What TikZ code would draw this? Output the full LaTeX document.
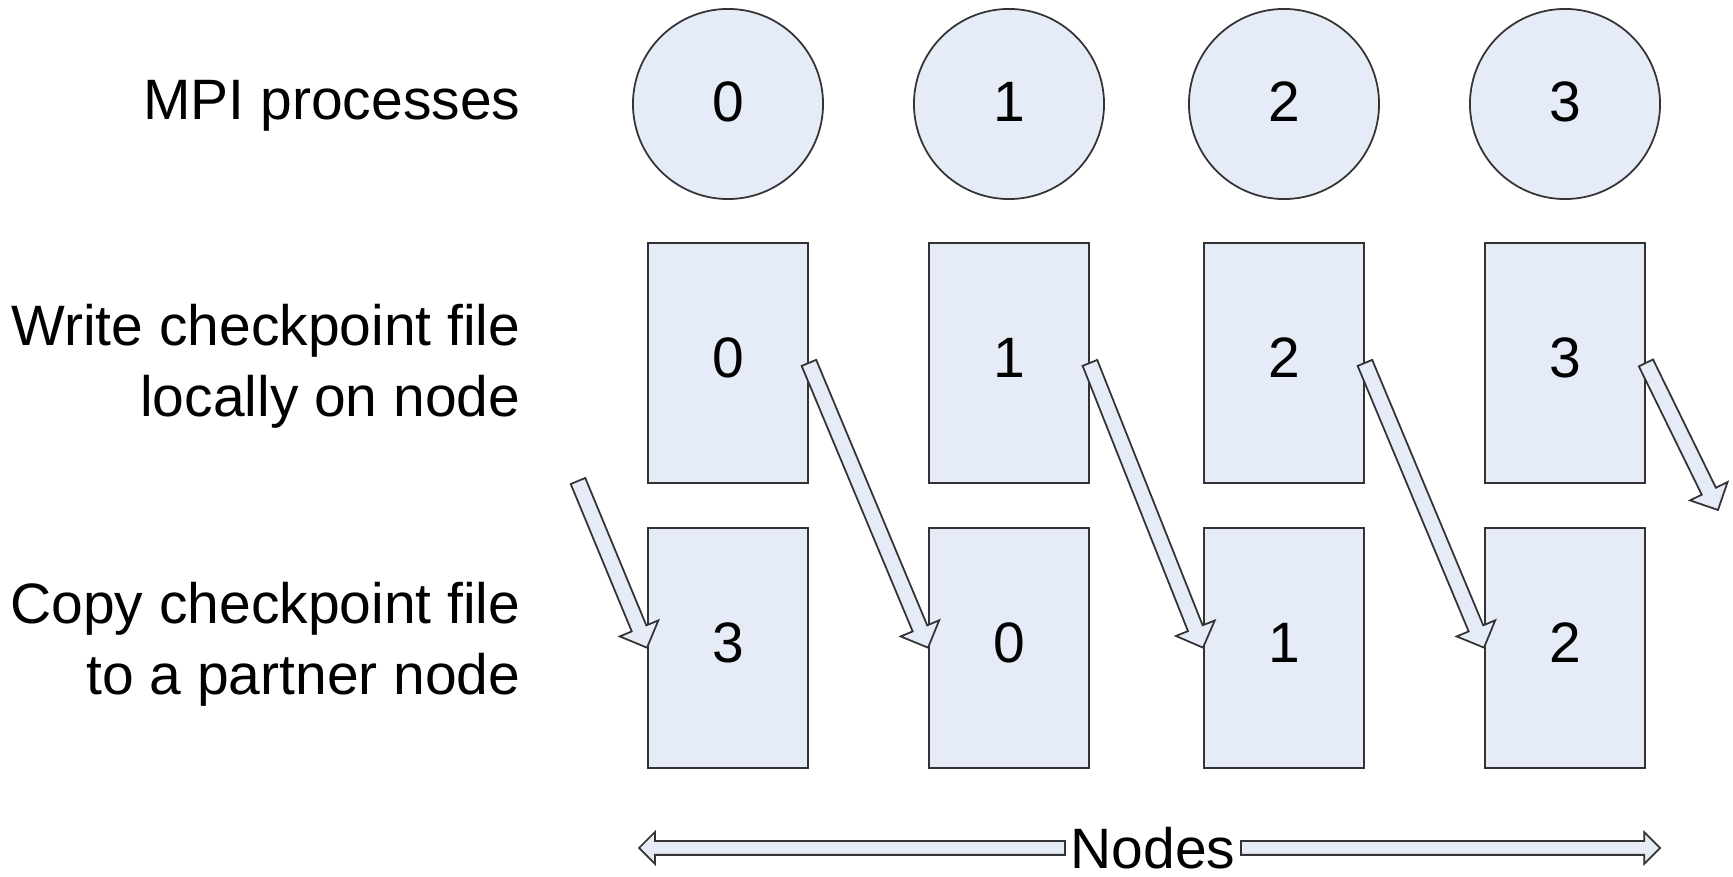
\documentclass[tikz,border=0pt]{standalone}
\usepackage{fontspec}
\setmainfont{Liberation Sans}
\usetikzlibrary{shapes.arrows, positioning, calc}
\definecolor{cellfill}{HTML}{E6ECF7}
\definecolor{edgegray}{HTML}{333333}
\tikzstyle{proc} = [circle, minimum size=1.9cm, draw=edgegray, fill=cellfill, line width=0.5pt, inner sep=0pt, text depth=0.05cm]
\tikzstyle{ckpt} = [rectangle, minimum width=1.6cm, minimum height=2.4cm, draw=edgegray, fill=cellfill, line width=0.5pt, inner sep=0pt, text depth=0.1cm]
\tikzstyle{rowlabel} = [align=right, anchor=east, inner sep=0pt]
\tikzstyle{flow} = [single arrow, draw=edgegray, fill=cellfill, line width=0.5pt, inner xsep=0pt, inner ysep=0.07cm, minimum width=0pt, single arrow head extend=0.13cm, single arrow tip angle=90, outer sep=0pt, anchor=tail]
\tikzstyle{span} = [inner ysep=0.06cm, single arrow head extend=0.09cm]

% block arrow from #2 to #3
\newcommand{\blockarrow}[3][]{%
  \path let \p1=(#2), \p2=(#3), \n1={atan2(\y2-\y1,\x2-\x1)}, \n2={veclen(\x2-\x1,\y2-\y1)} in
    (\p1) node[flow, #1, rotate=\n1, minimum height=\n2] {};}

\begin{document}
\begin{tikzpicture}[x=0.01cm, y=-0.01cm, font=\fontsize{16.2}{20.2}\selectfont]
    \useasboundingbox (0,0) rectangle (1733,877);

        % Row labels
        \node (lproc) [rowlabel] at (521,106) {MPI processes};
        \node (lwrite) [rowlabel] at (521,366) {Write checkpoint file\\ locally on node};
        \node (lcopy) [rowlabel] at (521,644) {Copy checkpoint file\\ to a partner node};

        % MPI processes
        \node (p0) [proc] at (728,104) {0};
        \node (p1) [proc] at (1009,104) {1};
        \node (p2) [proc] at (1284,104) {2};
        \node (p3) [proc] at (1565,104) {3};

        % Local checkpoints
        \node (w0) [ckpt, below=0.42cm of p0] {0};
        \node (w1) [ckpt, below=0.42cm of p1] {1};
        \node (w2) [ckpt, below=0.42cm of p2] {2};
        \node (w3) [ckpt, below=0.42cm of p3] {3};

        % Partner copies
        \node (c0) [ckpt, below=0.43cm of w0] {3};
        \node (c1) [ckpt, below=0.43cm of w1] {0};
        \node (c2) [ckpt, below=0.43cm of w2] {1};
        \node (c3) [ckpt, below=0.43cm of w3] {2};

        % Copy arrows
        \coordinate (in0) at (578,481);
        \coordinate (out3) at (1718,510);
        \blockarrow{in0}{c0.west}
        \blockarrow{w0.east}{c1.west}
        \blockarrow{w1.east}{c2.west}
        \blockarrow{w2.east}{c3.west}
        \blockarrow{w3.east}{out3}

        % Nodes axis
        \node (nodes) [inner xsep=0.05cm, inner ysep=0pt] at (1153,848) {Nodes};
        \coordinate (axleft) at (639,848);
        \coordinate (axright) at (1660,848);
        \blockarrow[span]{nodes.west}{axleft}
        \blockarrow[span]{nodes.east}{axright}

\end{tikzpicture}
\end{document}
